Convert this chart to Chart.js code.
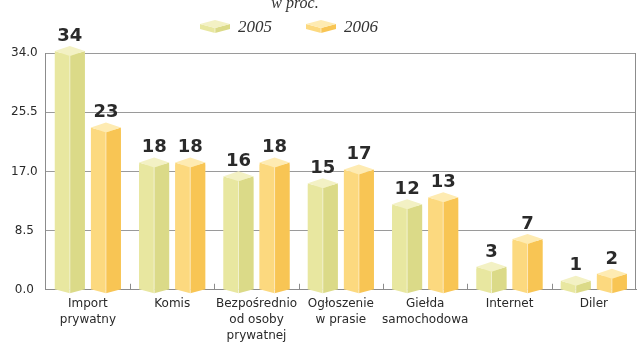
<!DOCTYPE html>
<html>
<head>
<meta charset="utf-8">
<script src="https://cdn.jsdelivr.net/npm/chart.js@4"></script>
<style>
  html, body { margin: 0; padding: 0; background: #fff; }
  #wrap { width: 640px; height: 351px; }
</style>
</head>
<body>
<div id="wrap"><canvas id="chart"></canvas></div>
<script>
// dane z wykresu (w proc.)
const categories = [['Import', 'prywatny'], 'Komis', ['Bezpośrednio', 'od osoby', 'prywatnej'],
  ['Ogłoszenie', 'w prasie'], ['Giełda', 'samochodowa'], 'Internet', 'Diler'];
const values2005 = [34, 18, 16, 15, 12, 3, 1];
const values2006 = [23, 18, 18, 17, 13, 7, 2];
const seriesNames = ['2005', '2006'];
const yTicks = [0, 8.5, 17, 25.5, 34];

// kolory scianek: gora, lewa, prawa
const faces = [
  { top: '#f3f1c4', left: '#e8e7a0', right: '#dbda88' },
  { top: '#feebb2', left: '#fcd97f', right: '#f8c554' }
];

function drawPrism(ctx, x0, x1, yTop, yBase, d, dBottom, c) {
  const xm = (x0 + x1) / 2;
  ctx.save();
  ctx.strokeStyle = 'rgba(255,255,255,0.55)';
  ctx.lineWidth = 1;
  // lewa scianka
  ctx.beginPath();
  ctx.moveTo(x0, yTop); ctx.lineTo(xm, yTop + d); ctx.lineTo(xm, yBase + dBottom); ctx.lineTo(x0, yBase);
  ctx.closePath();
  ctx.fillStyle = c.left; ctx.fill();
  // prawa scianka
  ctx.beginPath();
  ctx.moveTo(xm, yTop + d); ctx.lineTo(x1, yTop); ctx.lineTo(x1, yBase); ctx.lineTo(xm, yBase + dBottom);
  ctx.closePath();
  ctx.fillStyle = c.right; ctx.fill();
  // gora
  ctx.beginPath();
  ctx.moveTo(x0, yTop); ctx.lineTo(xm, yTop - d); ctx.lineTo(x1, yTop); ctx.lineTo(xm, yTop + d);
  ctx.closePath();
  ctx.fillStyle = c.top; ctx.fill();
  ctx.beginPath();
  ctx.moveTo(xm, yTop + d); ctx.lineTo(xm, yBase + dBottom);
  ctx.stroke();
  ctx.restore();
}

const bars3d = {
  id: 'bars3d',
  beforeDatasetsDraw(chart) {
    // prawa krawedz ramki i kreski miedzy kategoriami
    const { ctx, chartArea, scales } = chart;
    ctx.save();
    ctx.strokeStyle = '#8c8c8c';
    ctx.lineWidth = 1;
    ctx.beginPath();
    ctx.moveTo(chartArea.right - 0.5, chartArea.top);
    ctx.lineTo(chartArea.right - 0.5, chartArea.bottom);
    const step = scales.x.getPixelForValue(1) - scales.x.getPixelForValue(0);
    for (let i = 1; i < categories.length; i++) {
      const x = Math.round(scales.x.getPixelForValue(i) - step / 2) + 0.5;
      ctx.moveTo(x, chartArea.bottom);
      ctx.lineTo(x, chartArea.bottom - 6);
    }
    ctx.stroke();
    ctx.restore();
  },
  afterDatasetsDraw(chart) {
    const ctx = chart.ctx;
    chart.data.datasets.forEach((ds, di) => {
      chart.getDatasetMeta(di).data.forEach((bar, i) => {
        const x0 = bar.x - bar.width / 2, x1 = bar.x + bar.width / 2;
        const yTop = bar.y - 2;
        drawPrism(ctx, x0, x1, yTop, bar.base, 5, 4, faces[di]);
        ctx.save();
        ctx.fillStyle = '#2a2a2a';
        ctx.font = 'bold 18px "DejaVu Sans"';
        ctx.textAlign = 'center';
        ctx.textBaseline = 'middle';
        ctx.fillText(String(ds.data[i]), bar.x, yTop - 15);
        ctx.restore();
      });
    });
  },
  afterDraw(chart) {
    const ctx = chart.ctx;
    ctx.save();
    ctx.fillStyle = '#333';
    ctx.font = 'italic 16px "Liberation Serif"';
    ctx.textAlign = 'center';
    ctx.textBaseline = 'alphabetic';
    ctx.fillText('w proc.', 295, 8);
    // legenda
    const items = [{ x: 200 }, { x: 306 }];
    items.forEach((it, k) => {
      drawPrism(ctx, it.x, it.x + 30, 24, 29, 4, 4, faces[k]);
      ctx.fillStyle = '#333';
      ctx.textAlign = 'left';
      ctx.font = 'italic 17px "Liberation Serif"';
      ctx.fillText(seriesNames[k], it.x + 38, 32);
    });
    ctx.restore();
  }
};

new Chart(document.getElementById('chart'), {
  type: 'bar',
  data: {
    labels: categories,
    datasets: [
      { label: seriesNames[0], data: values2005, backgroundColor: faces[0].left },
      { label: seriesNames[1], data: values2006, backgroundColor: faces[1].left }
    ]
  },
  options: {
    responsive: true,
    maintainAspectRatio: false,
    animation: false,
    categoryPercentage: 0.856,
    barPercentage: 0.83,
    layout: { padding: { top: 53, right: 4, left: 3, bottom: 1 } },
    plugins: { legend: { display: false }, tooltip: { enabled: false } },
    scales: {
      x: {
        grid: { display: false, drawTicks: false },
        border: { display: true, color: '#8c8c8c' },
        ticks: {
          color: '#2a2a2a',
          font: { family: 'DejaVu Sans', size: 12, lineHeight: 1.34 },
          padding: 6,
          maxRotation: 0,
          autoSkip: false
        }
      },
      y: {
        min: 0,
        max: 34,
        afterBuildTicks(axis) { axis.ticks = yTicks.map(v => ({ value: v })); },
        grid: { color: '#9a9a9a', drawTicks: false },
        border: { display: true, color: '#8c8c8c' },
        ticks: {
          color: '#2a2a2a',
          font: { family: 'DejaVu Sans', size: 12 },
          padding: 8,
          crossAlign: 'center',
          callback: v => Number(v).toFixed(1)
        }
      }
    }
  },
  plugins: [bars3d]
});
</script>
</body>
</html>
